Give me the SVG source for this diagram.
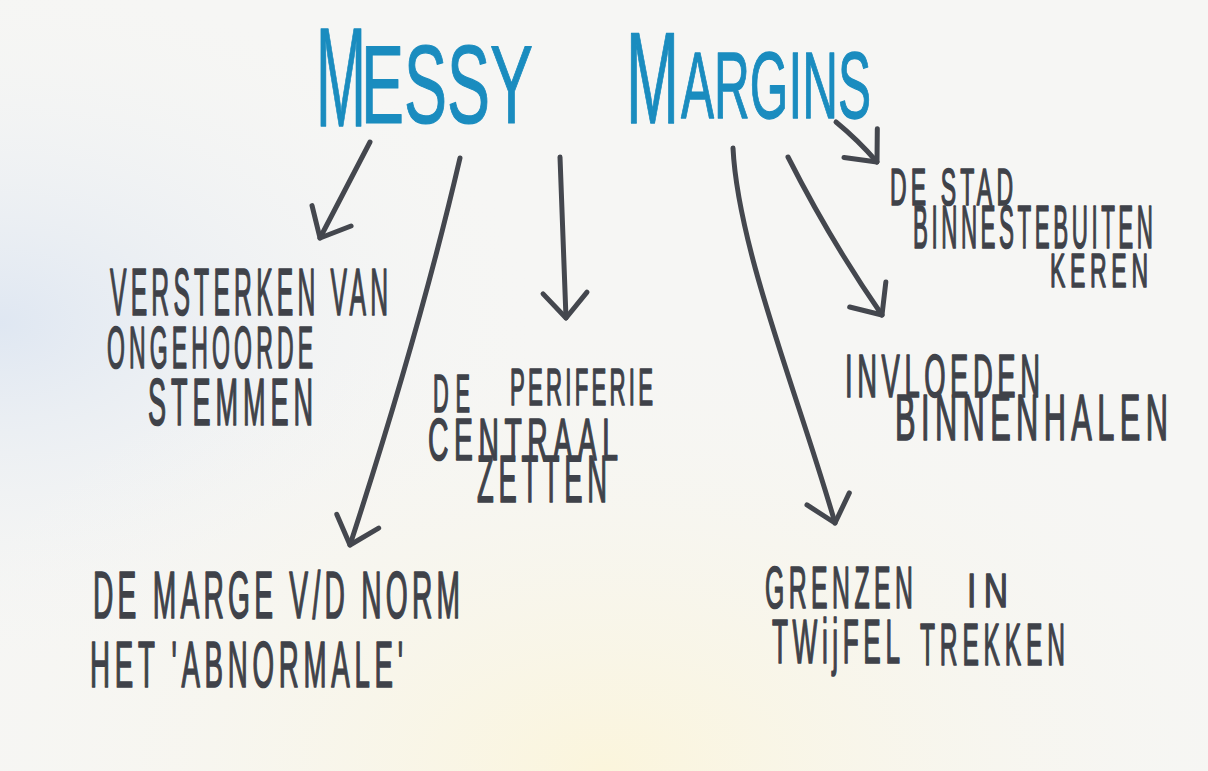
<svg xmlns="http://www.w3.org/2000/svg" width="1208" height="771" viewBox="0 0 1208 771">
<defs>
<radialGradient id="blueL" cx="0" cy="0.42" r="0.45" gradientUnits="objectBoundingBox">
<stop offset="0" stop-color="#dfe7f2" stop-opacity="1"/>
<stop offset="1" stop-color="#f6f6f4" stop-opacity="0"/>
</radialGradient>
<radialGradient id="yelB" cx="0.5" cy="1" r="0.6" gradientUnits="objectBoundingBox">
<stop offset="0" stop-color="#fbf5dc" stop-opacity="1"/>
<stop offset="1" stop-color="#f6f6f4" stop-opacity="0"/>
</radialGradient>
<marker id="head" markerUnits="userSpaceOnUse" markerWidth="60" markerHeight="60" refX="0" refY="0" viewBox="-40 -30 50 60" orient="auto" overflow="visible">
<path d="M -25 -22 L 0 0 L -25 22" fill="none" stroke="#44474e" stroke-width="5" stroke-linecap="round" stroke-linejoin="round"/>
</marker>
</defs>
<style>
.t{font-family:"Liberation Sans",Arial,sans-serif;fill:#3f4249;stroke:#3f4249;stroke-width:1.3px;stroke-linejoin:round;vector-effect:non-scaling-stroke;}
.title{font-family:"Liberation Sans",Arial,sans-serif;fill:#1a8cbf;stroke:#1a8cbf;stroke-width:1px;stroke-linejoin:round;vector-effect:non-scaling-stroke;}
.c{fill:none;stroke:#44474e;stroke-width:5;stroke-linecap:round;stroke-linejoin:round;marker-end:url(#head);}
</style>
<rect x="0" y="0" width="1208" height="771" fill="#f6f6f4"/>
<rect x="0" y="0" width="1208" height="771" fill="url(#blueL)"/>
<rect x="0" y="0" width="1208" height="771" fill="url(#yelB)"/>

<g id="connectors">
<path class="c" d="M 370 142 Q 345 190 320 238"/>
<path class="c" d="M 460 158 Q 420 330 350 545"/>
<path class="c" d="M 560 157 Q 563 240 566 318"/>
<path class="c" d="M 733 148 C 738 250 800 400 835 523"/>
<path class="c" d="M 788 157 Q 830 240 882 315"/>
<path class="c" d="M 836 122 Q 858 140 877 162"/>
</g>

<g id="title">
<text class="title" transform="translate(316,126) scale(1,2.36)" font-size="60" textLength="50" lengthAdjust="spacingAndGlyphs">M</text>
<text class="title" transform="translate(361,123) scale(1,1.73)" font-size="64.5" textLength="172" lengthAdjust="spacingAndGlyphs">ESSY</text>
<text class="title" transform="translate(626,123) scale(1,2.04)" font-size="63.6" textLength="53" lengthAdjust="spacingAndGlyphs">M</text>
<text class="title" transform="translate(681,118) scale(1,1.91)" font-size="49.6" textLength="190" lengthAdjust="spacingAndGlyphs">ARGINS</text>
</g>

<g id="node-versterken">
<text class="t" transform="translate(110,315) scale(1,2.72)" font-size="24.7" textLength="278" lengthAdjust="spacing">VERSTERKEN VAN</text>
<text class="t" transform="translate(107,368) scale(1,2.61)" font-size="23" textLength="206" lengthAdjust="spacing">ONGEHOORDE</text>
<text class="t" transform="translate(148,425) scale(1,2.43)" font-size="27.1" textLength="165" lengthAdjust="spacing">STEMMEN</text>
</g>

<g id="node-periferie">
<text class="t" transform="translate(433,412) scale(1,2.5)" font-size="21.8" textLength="37" lengthAdjust="spacing">DE</text>
<text class="t" transform="translate(510,405) scale(1,2.33)" font-size="22.2" textLength="143" lengthAdjust="spacing">PERIFERIE</text>
<text class="t" transform="translate(428,460) scale(1,2.07)" font-size="28.3" textLength="190" lengthAdjust="spacing">CENTRAAL</text>
<text class="t" transform="translate(477,502) scale(1,2.4)" font-size="27.4" textLength="130" lengthAdjust="spacing">ZETTEN</text>
</g>

<g id="node-marge">
<text class="t" transform="translate(93,618) scale(1,2.38)" font-size="28.2" textLength="367" lengthAdjust="spacing">DE MARGE V/D NORM</text>
<text class="t" transform="translate(90,687) scale(1,2.32)" font-size="27.7" textLength="313" lengthAdjust="spacing">HET 'ABNORMALE'</text>
</g>

<g id="node-grenzen">
<text class="t" transform="translate(765,608) scale(1,2.41)" font-size="24.8" textLength="148" lengthAdjust="spacing">GRENZEN</text>
<text class="t" transform="translate(967,607) scale(1,1.45)" font-size="33.6" textLength="41" lengthAdjust="spacing">IN</text>
<text class="t" transform="translate(772,663) scale(1,2.39)" font-size="26.2" textLength="128" lengthAdjust="spacing">TWijFEL</text>
<text class="t" transform="translate(920,665) scale(1,2.44)" font-size="24.6" textLength="145" lengthAdjust="spacing">TREKKEN</text>
</g>

<g id="node-stad">
<text class="t" transform="translate(890,205) scale(1,2.26)" font-size="23" textLength="123" lengthAdjust="spacing">DE STAD</text>
<text class="t" transform="translate(913,248) scale(1,2.74)" font-size="22.4" textLength="240" lengthAdjust="spacing">BINNESTEBUITEN</text>
<text class="t" transform="translate(1050,287) scale(1,2.13)" font-size="23" textLength="98" lengthAdjust="spacing">KEREN</text>
</g>

<g id="node-invloeden">
<text class="t" transform="translate(845,397) scale(1,2.24)" font-size="27.4" textLength="195" lengthAdjust="spacing">INVLOEDEN</text>
<text class="t" transform="translate(895,440) scale(1,2.09)" font-size="30.8" textLength="273" lengthAdjust="spacing">BINNENHALEN</text>
</g>
</svg>
